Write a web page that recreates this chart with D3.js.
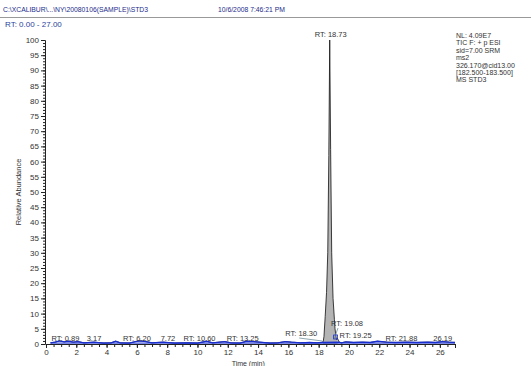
<!DOCTYPE html>
<html>
<head>
<meta charset="utf-8">
<script src="https://cdn.jsdelivr.net/npm/d3@7"></script>
<style>
  body { margin: 0; background: #fff; }
  svg { display: block; font-family: "Liberation Sans", Arial, sans-serif; }
</style>
</head>
<body>
<div id="chart"></div>
<script>
// Chromatogram STD3, time (min) vs relative abundance
const times = [0.3, 0.6, 0.89, 1.2, 1.5, 1.8, 2.1, 2.5, 3.17, 3.8, 4.3, 4.6, 4.9, 5.5, 5.9, 6.2, 6.6, 7.0, 7.72, 8.5,
  9.3, 10.0, 10.6, 11.0, 11.8, 12.2, 12.8, 13.25, 13.7, 14.1, 14.8, 15.3, 15.8, 16.2, 16.8, 17.4, 17.9, 18.2,
  18.30, 18.35, 18.43, 18.52, 18.60, 18.67, 18.73, 18.79, 18.86, 18.95, 19.04, 19.08, 19.17, 19.25, 19.35, 19.5,
  19.8, 20.3, 20.9, 21.4, 21.88, 22.5, 23.1, 23.8, 24.5, 25.2, 25.7, 26.19, 26.6, 27.0];
const abundance = [0.4, 0.6, 1.0, 0.7, 0.9, 0.6, 0.8, 0.4, 0.6, 0.3, 0.4, 0.9, 0.4, 0.3, 0.8, 1.0, 0.8, 0.4, 0.6, 0.3,
  0.4, 0.3, 0.9, 0.4, 0.8, 0.4, 0.3, 0.9, 0.8, 0.6, 0.3, 0.4, 0.8, 0.6, 0.4, 0.5, 0.4, 0.5,
  0.8, 2.5, 9, 17, 30, 62, 100, 64, 30, 15, 8, 5, 1.5, 1.8, 0.6, 0.4,
  0.7, 0.5, 0.6, 0.5, 0.9, 0.6, 0.5, 0.6, 0.5, 0.6, 0.5, 0.8, 0.6, 0.5];

// labelled peaks
const peakRT = [0.89, 3.17, 6.20, 7.72, 10.60, 13.25, 18.30, 18.73, 19.08, 19.25, 21.88, 26.19];
const peakText = ['RT: 0.89', '3.17', 'RT: 6.20', '7.72', 'RT: 10.60', 'RT: 13.25', 'RT: 18.30', 'RT: 18.73',
  'RT: 19.08', 'RT: 19.25', 'RT: 21.88', '26.19'];
const peakHeight = [1.0, 0.6, 1.0, 0.6, 0.9, 0.9, 0.8, 100, 5, 1.8, 0.9, 0.8];

const infoLines = ['NL: 4.09E7', 'TIC F: + p ESI', 'sid=7.00  SRM', 'ms2', '326.170@cid13.00', '[182.500-183.500]', 'MS STD3'];

const W = 531, H = 366;
const margin = { top: 40, right: 76, bottom: 22, left: 46 };

const svg = d3.select('#chart').append('svg').attr('width', W).attr('height', H);

const x = d3.scaleLinear().domain([0, 27]).range([margin.left, W - margin.right]);
const y = d3.scaleLinear().domain([0, 100]).range([H - margin.bottom, margin.top]);

// header
svg.append('text').attr('x', 3).attr('y', 12).attr('font-size', 6.8).attr('fill', '#1c2a8a')
  .text('C:\\XCALIBUR\\...\\NY\\20080106(SAMPLE)\\STD3');
svg.append('text').attr('x', 218).attr('y', 12).attr('font-size', 6.8).attr('fill', '#1c2a8a')
  .text('10/6/2008 7:46:21 PM');
svg.append('line').attr('x1', 0).attr('x2', W).attr('y1', 17.5).attr('y2', 17.5)
  .attr('stroke', '#999').attr('stroke-width', 1);
svg.append('text').attr('x', 5).attr('y', 27).attr('font-size', 8).attr('fill', '#2a3fa0')
  .text('RT: 0.00 - 27.00');

// y axis
const yAxis = svg.append('g').attr('transform', `translate(${margin.left - 1},0)`);
yAxis.call(d3.axisLeft(y).tickValues(d3.range(0, 101, 1)).tickSize(2).tickFormat(''))
  .call(g => g.select('.domain').remove());
yAxis.append('g').call(d3.axisLeft(y).tickValues(d3.range(0, 101, 5)).tickSize(4).tickPadding(2))
  .call(g => g.selectAll('text').attr('font-size', 8).attr('fill', '#333').attr('font-family', '"Liberation Sans", Arial, sans-serif'));
yAxis.selectAll('line').attr('stroke', '#222');
yAxis.selectAll('.domain').attr('stroke', '#222');

// x axis
const xAxis = svg.append('g').attr('transform', `translate(0,${y(0)})`);
xAxis.call(d3.axisBottom(x).tickValues(d3.range(0, 27.01, 0.5)).tickSize(3).tickFormat(''))
  .call(g => g.select('.domain').remove());
xAxis.append('g').call(d3.axisBottom(x).tickValues(d3.range(0, 27, 2)).tickSize(4).tickPadding(1))
  .call(g => g.selectAll('text').attr('font-size', 8).attr('fill', '#333').attr('font-family', '"Liberation Sans", Arial, sans-serif'));
xAxis.selectAll('line').attr('stroke', '#222');
xAxis.selectAll('.domain').attr('stroke', '#222');

// axis titles
svg.append('text').attr('transform', `translate(21,${y(50)}) rotate(-90)`).attr('text-anchor', 'middle')
  .attr('font-size', 7.5).attr('fill', '#333').text('Relative Abundance');
svg.append('text').attr('x', x(13.35)).attr('y', H - 0.5).attr('text-anchor', 'middle')
  .attr('font-size', 7).attr('fill', '#333').text('Time (min)');

// trace
const pts = times.map((t, i) => [t, abundance[i]]);
const peakPts = pts.filter(d => d[0] >= 18.30 && d[0] <= 19.25);
svg.append('path').datum(peakPts)
  .attr('d', d3.area().x(d => x(d[0])).y0(y(0)).y1(d => y(d[1])))
  .attr('fill', '#b4b4b4');

svg.append('path').datum(pts)
  .attr('d', d3.line().x(d => x(d[0])).y(d => y(d[1])))
  .attr('fill', 'none').attr('stroke', '#111').attr('stroke-width', 0.8);

// baseline (blue)
svg.append('path').datum(pts.filter(d => d[0] < 18.3 || d[0] > 19.25))
  .attr('d', d3.line().x(d => x(d[0])).y(d => y(Math.min(d[1], 1.2))))
  .attr('fill', 'none').attr('stroke', '#1a2fd0').attr('stroke-width', 1.3);
svg.append('line').attr('x1', x(0.3)).attr('x2', x(27)).attr('y1', y(0.3)).attr('y2', y(0.3))
  .attr('stroke', '#1a2fd0').attr('stroke-width', 1);

// peak labels; small pixel nudges keep them apart
const labelDx = [6, 0, -3, 5, -7, -4, -22, 1, 12, 18, 24, 0];
const labelDy = [-3, -3, -3, -3, -3, -3, -8, 0, -18, -6, -3, -3];
peakRT.forEach((rt, i) => {
  const lx = x(rt) + labelDx[i];
  const ly = rt === 18.73 ? y(peakHeight[i]) - 3 : y(0) + labelDy[i];
  svg.append('text').attr('x', lx).attr('y', ly).attr('text-anchor', 'middle')
    .attr('font-size', 7.5).attr('fill', '#333').text(peakText[i]);
});
// leader lines
svg.append('line').attr('x1', x(18.30) - 24).attr('y1', y(0) - 6).attr('x2', x(18.30) - 1).attr('y2', y(0) - 3)
  .attr('stroke', '#6f8f9a').attr('stroke-width', 0.8);
svg.append('line').attr('x1', x(19.08) + 3).attr('y1', y(0) - 16).attr('x2', x(19.08) - 1).attr('y2', y(0) - 5)
  .attr('stroke', '#6f8f9a').attr('stroke-width', 0.8);
svg.append('rect').attr('x', x(19.25) - 4).attr('y', y(0) - 9).attr('width', 4).attr('height', 4)
  .attr('fill', 'none').attr('stroke', '#1a2fd0').attr('stroke-width', 0.8);

// info block
svg.append('g').selectAll('text').data(infoLines).enter().append('text')
  .attr('x', 456).attr('y', (d, i) => 38 + i * 7.4)
  .attr('font-size', 7).attr('fill', '#333').text(d => d);
</script>
</body>
</html>
